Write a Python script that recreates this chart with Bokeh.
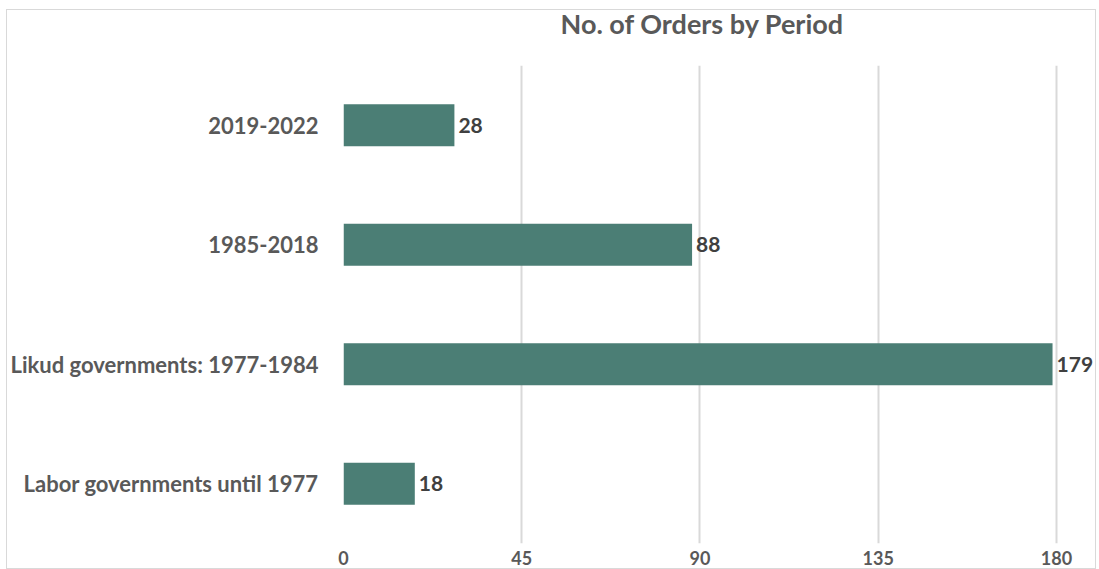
from bokeh.plotting import figure
from bokeh.models import FixedTicker, Range1d, FactorRange, ColumnDataSource, Title
from bokeh.embed import file_html
from bokeh.resources import INLINE
from bokeh.core.properties import value

periods = ["Labor governments until 1977", "Likud governments: 1977-1984", "1985-2018", "2019-2022"]
orders = [18, 179, 88, 28]
x_ticks = [0, 45, 90, 135, 180]
title_text = "No. of Orders by Period"

FONT = "Lato"
GREY = "#595959"

src = ColumnDataSource(dict(period=periods, orders=orders, label=[str(v) for v in orders]))

p = figure(width=1090, height=560, output_backend="svg", toolbar_location=None, title=None,
           y_range=FactorRange(*periods, range_padding=0), x_range=Range1d(0, 190.1),
           min_border_left=336, min_border_right=1, min_border_top=55, min_border_bottom=27)
p.styles = {"border": "1px solid #d9d9d9", "box-sizing": "border-box",
            "margin-left": "6px", "margin-top": "9px"}

# spacer (closest to the frame), then the real title above it
p.add_layout(Title(text=" ", text_font=FONT, text_font_size="27px", standoff=-1), "above")
p.add_layout(Title(text=title_text, align="left", offset=217, vertical_align="bottom",
                   standoff=-16, text_font=FONT, text_font_style="bold",
                   text_font_size="27px", text_color=GREY), "above")

p.hbar(y="period", right="orders", height=0.35, left=0, source=src,
       fill_color="#4b7e75", line_color=None)
p.text(x="orders", y="period", text="label", source=src, x_offset=4,
       text_baseline="middle", text_align="left", text_font=value(FONT),
       text_font_style="bold", text_font_size="21px", text_color="#404040")

p.outline_line_color = None
p.background_fill_color = "white"
p.border_fill_color = "white"

p.xgrid.ticker = FixedTicker(ticks=x_ticks)
p.xgrid.grid_line_color = "#d9d9d9"
p.xgrid.grid_line_width = 2
p.ygrid.grid_line_color = None

p.xaxis.ticker = FixedTicker(ticks=x_ticks)
p.xaxis.axis_line_color = None
p.xaxis.major_tick_line_color = None
p.xaxis.minor_tick_line_color = None
p.xaxis.major_label_standoff = 1
p.xaxis.major_label_text_font = FONT
p.xaxis.major_label_text_font_style = "bold"
p.xaxis.major_label_text_font_size = "18px"
p.xaxis.major_label_text_color = GREY

p.yaxis.axis_line_color = None
p.yaxis.major_tick_line_color = None
p.yaxis.minor_tick_line_color = None
p.yaxis.major_label_standoff = 19
p.yaxis.major_label_text_font = FONT
p.yaxis.major_label_text_font_style = "bold"
p.yaxis.major_label_text_font_size = "22px"
p.yaxis.major_label_text_color = GREY

open("out.html", "w").write(file_html(p, INLINE))
